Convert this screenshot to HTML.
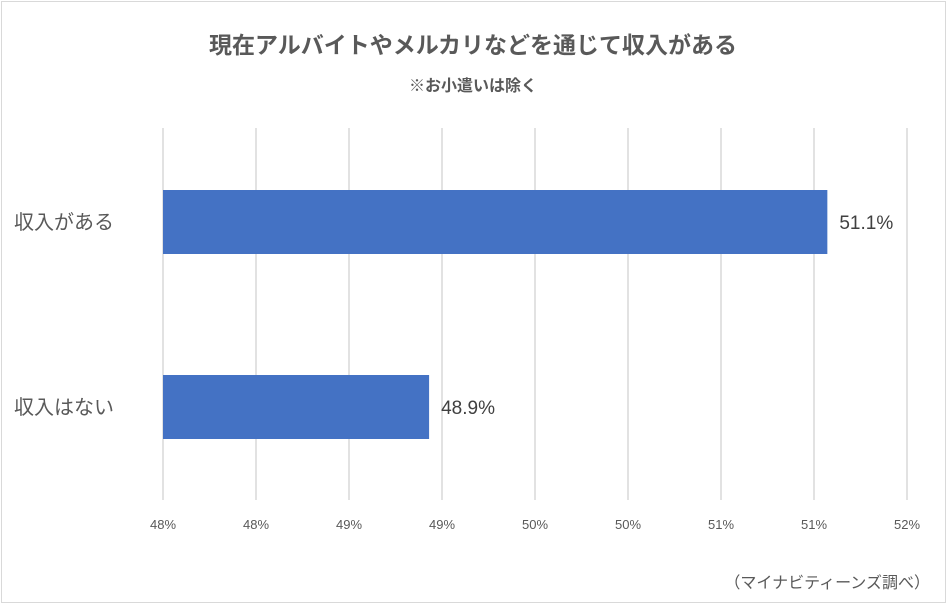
<!DOCTYPE html>
<html><head><meta charset="utf-8"><style>
body{margin:0;background:#fff;}
#c{position:relative;width:947px;height:604px;font-family:"Liberation Sans","Noto Sans CJK JP",sans-serif;color:#595959;}
</style></head><body>
<div id="c">
<svg id="s" width="947" height="604">
<rect x="1.5" y="1.5" width="944" height="601" fill="#fff" stroke="#d9d9d9" stroke-width="1"/>
<text x="473" y="53" text-anchor="middle" font-size="23" font-weight="bold" fill="#595959" font-family="Liberation Sans,Noto Sans CJK JP,sans-serif">現在アルバイトやメルカリなどを通じて収入がある</text>
<text x="473" y="91" text-anchor="middle" font-size="16" font-weight="bold" fill="#595959" font-family="Liberation Sans,Noto Sans CJK JP,sans-serif">※お小遣いは除く</text>
<g id="grid"></g><g id="bars"></g>
<text x="930" y="588" text-anchor="end" font-size="16" fill="#595959" font-family="Liberation Sans,Noto Sans CJK JP,sans-serif">（マイナビティーンズ調べ）</text>
</svg>
</div>
<script>
const categories=["収入がある","収入はない"];
const values=[51.1,48.9];
const tickLabels=["48%","48%","49%","49%","50%","50%","51%","51%","52%"];
const ns="http://www.w3.org/2000/svg";
const x0=163,x1=907,axMin=47.43,axMax=51.54;
function xs(v){return x0+(v-axMin)/(axMax-axMin)*(x1-x0);}
const bandTop=[190,375],barH=64;
function el(t,a,p,txt){const e=document.createElementNS(ns,t);for(const k in a)e.setAttribute(k,a[k]);if(txt!==undefined)e.textContent=txt;p.appendChild(e);return e;}
const g=document.getElementById('grid'),b=document.getElementById('bars');
const F="Liberation Sans,Noto Sans CJK JP,sans-serif";
tickLabels.forEach((t,i)=>{
 const x=x0+i*(x1-x0)/(tickLabels.length-1);
 const l=el('line',{x1:x,x2:x,y1:128,y2:500,stroke:'#d9d9d9','stroke-width':1.5},g);
 
 
 const tx=el('text',{x:x,y:529,'text-anchor':'middle','font-size':13,fill:'#595959','font-family':F},g,t);
 
 
});
categories.forEach((c,i)=>{
 const y=bandTop[i];
 const r=el('rect',{x:x0,y:y,width:xs(values[i])-x0,height:barH,fill:'#4472c4'},b);
 
 
 const ct=el('text',{x:14,y:y+barH/2+7,'font-size':20,fill:'#595959','font-family':F},b,c);
 
 
 const vt=el('text',{x:xs(values[i])+12,y:y+barH/2+7,'font-size':19,fill:'#404040','font-family':F},b,values[i].toFixed(1)+'%');
 
 
});
</script>
</body></html>
